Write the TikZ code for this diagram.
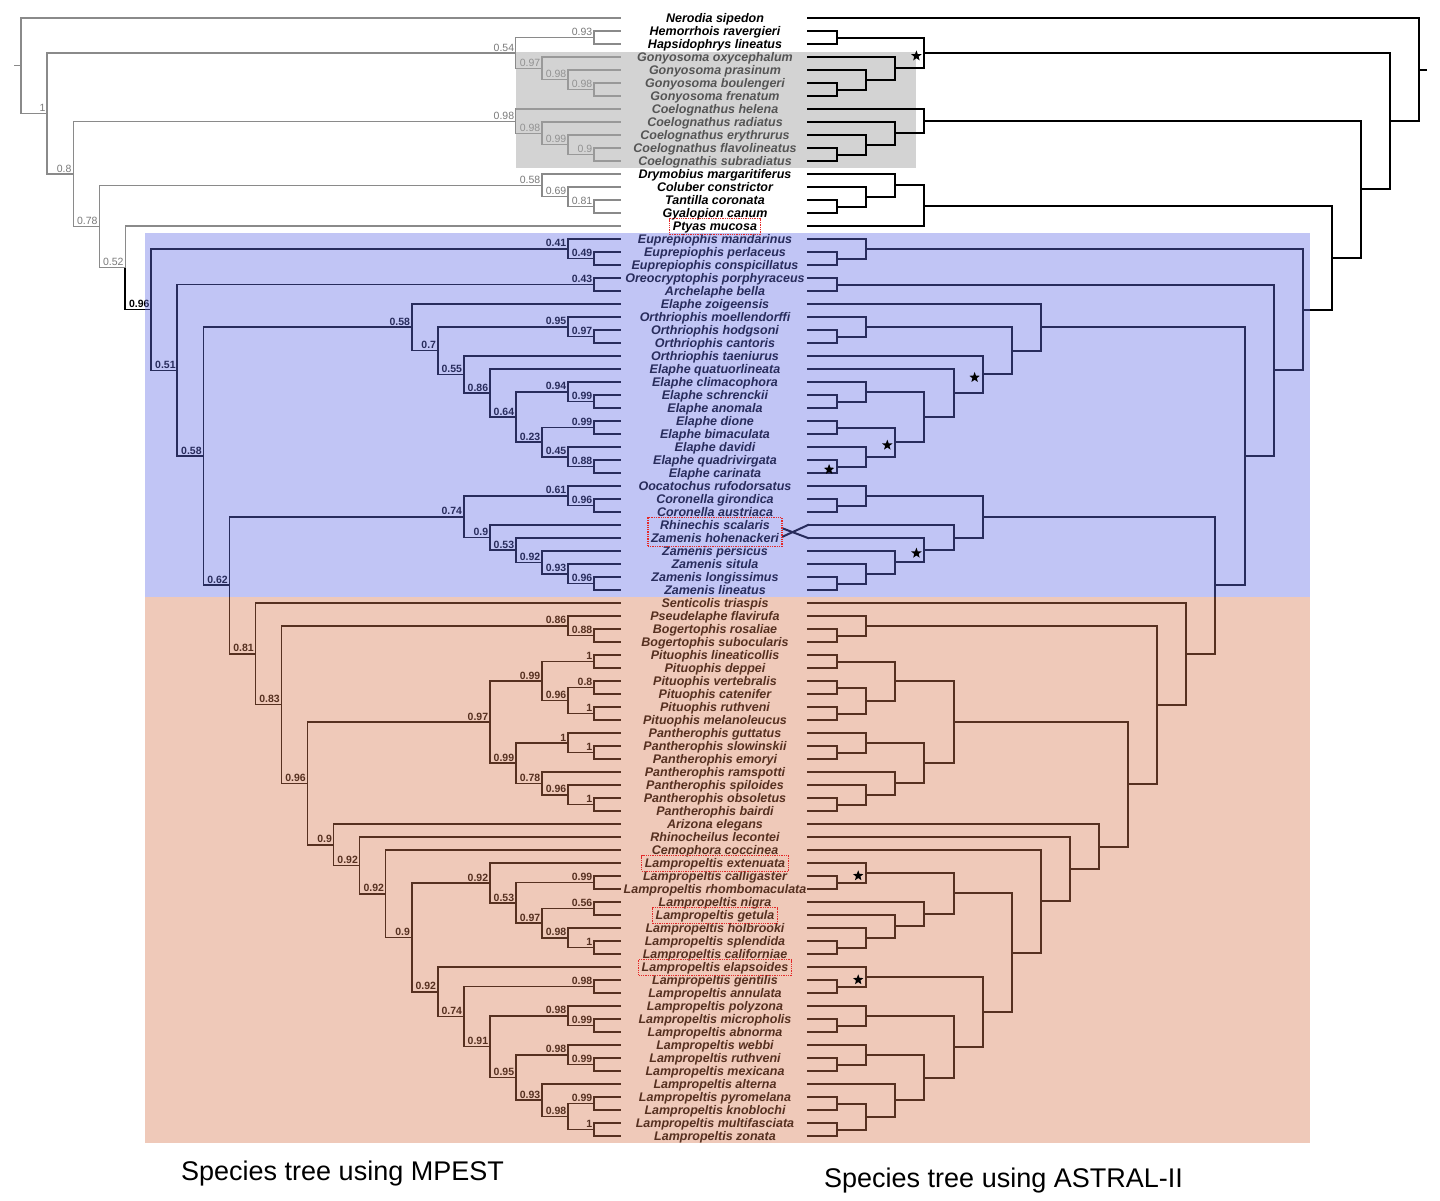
\documentclass[tikz,border=0pt]{standalone}
\usepackage{fontspec}
\setmainfont{Liberation Sans}
\usetikzlibrary{calc,fit,shapes.geometric}
\definecolor{gline}{HTML}{8A8A8A}
\definecolor{gval}{HTML}{7A7A7A}
\definecolor{bluebox}{RGB}{100,110,230}
\definecolor{orangebox}{RGB}{215,120,80}
\definecolor{graybox}{RGB}{169,169,169}
\definecolor{redbox}{RGB}{228,40,40}
\newcommand\T[2]{%
  \coordinate (l#1) at (620,{18+13*(#1-1)});
  \coordinate (r#1) at (808,{18+13*(#1-1)});
  \node[tax] (t#1) at (715,{22.5+13*(#1-1)}) {#2};}
\newcommand\LN[5]{%
  \path let \p1=(#3),\p2=(#4) in ({(620-26.04*#2)*1pt},{0.5*\y1+0.5*\y2}) coordinate (#1);
  \draw[lcur] (#1) |- (#3);
  \draw[lcur] (#1) |- (#4);
  \node[vcur] (v#1) at (#1) {#5};}
\newcommand\RN[4]{%
  \path let \p1=(#3),\p2=(#4) in ({(808+29.1*#2)*1pt},{0.5*\y1+0.5*\y2}) coordinate (#1);
  \draw[rline] (#1) |- (#3);
  \draw[rline] (#1) |- (#4);}
\begin{document}
\begin{tikzpicture}[x=1pt,y=-1pt,
  tax/.style={anchor=base,inner sep=0pt,text height=10.5pt,text depth=2.5pt,font=\fontsize{12.5}{13}\selectfont\bfseries\itshape},
  lgray/.style={draw=gline,line width=1.3pt,line cap=rect},
  lblack/.style={draw=black,line width=1.7pt,line cap=rect},
  rline/.style={draw=black,line width=2pt,line cap=rect},
  vgray/.style={anchor=south east,inner sep=0pt,xshift=-1.5pt,yshift=1.5pt,text=gval,font=\fontsize{10.5}{11}\selectfont},
  vblack/.style={anchor=south east,inner sep=0pt,xshift=-1.5pt,yshift=1.5pt,text=black,font=\fontsize{10.5}{11}\selectfont\bfseries},
  lcur/.style={lgray}, vcur/.style={vgray},
  starmark/.style={star,star points=5,star point ratio=2.4,fill=black,draw=none,minimum size=11pt,inner sep=0pt},
  redbx/.style={draw=redbox,densely dotted,line width=1.3pt,inner xsep=3pt,inner ysep=1pt},
  ttl/.style={anchor=base west,inner sep=0pt,font=\fontsize{27}{30}\selectfont}]
\useasboundingbox (0,0) rectangle (1440,1200);
\fill[white] (0,0) rectangle (1440,1200);
% ---------------- tip labels
\T{1}{Nerodia sipedon}
\T{2}{Hemorrhois ravergieri}
\T{3}{Hapsidophrys lineatus}
\T{4}{Gonyosoma oxycephalum}
\T{5}{Gonyosoma prasinum}
\T{6}{Gonyosoma boulengeri}
\T{7}{Gonyosoma frenatum}
\T{8}{Coelognathus helena}
\T{9}{Coelognathus radiatus}
\T{10}{Coelognathus erythrurus}
\T{11}{Coelognathus flavolineatus}
\T{12}{Coelognathis subradiatus}
\T{13}{Drymobius margaritiferus}
\T{14}{Coluber constrictor}
\T{15}{Tantilla coronata}
\T{16}{Gyalopion canum}
\T{17}{Ptyas mucosa}
\T{18}{Euprepiophis mandarinus}
\T{19}{Euprepiophis perlaceus}
\T{20}{Euprepiophis conspicillatus}
\T{21}{Oreocryptophis porphyraceus}
\T{22}{Archelaphe bella}
\T{23}{Elaphe zoigeensis}
\T{24}{Orthriophis moellendorffi}
\T{25}{Orthriophis hodgsoni}
\T{26}{Orthriophis cantoris}
\T{27}{Orthriophis taeniurus}
\T{28}{Elaphe quatuorlineata}
\T{29}{Elaphe climacophora}
\T{30}{Elaphe schrenckii}
\T{31}{Elaphe anomala}
\T{32}{Elaphe dione}
\T{33}{Elaphe bimaculata}
\T{34}{Elaphe davidi}
\T{35}{Elaphe quadrivirgata}
\T{36}{Elaphe carinata}
\T{37}{Oocatochus rufodorsatus}
\T{38}{Coronella girondica}
\T{39}{Coronella austriaca}
\T{40}{Rhinechis scalaris}
\T{41}{Zamenis hohenackeri}
\T{42}{Zamenis persicus}
\T{43}{Zamenis situla}
\T{44}{Zamenis longissimus}
\T{45}{Zamenis lineatus}
\T{46}{Senticolis triaspis}
\T{47}{Pseudelaphe flavirufa}
\T{48}{Bogertophis rosaliae}
\T{49}{Bogertophis subocularis}
\T{50}{Pituophis lineaticollis}
\T{51}{Pituophis deppei}
\T{52}{Pituophis vertebralis}
\T{53}{Pituophis catenifer}
\T{54}{Pituophis ruthveni}
\T{55}{Pituophis melanoleucus}
\T{56}{Pantherophis guttatus}
\T{57}{Pantherophis slowinskii}
\T{58}{Pantherophis emoryi}
\T{59}{Pantherophis ramspotti}
\T{60}{Pantherophis spiloides}
\T{61}{Pantherophis obsoletus}
\T{62}{Pantherophis bairdi}
\T{63}{Arizona elegans}
\T{64}{Rhinocheilus lecontei}
\T{65}{Cemophora coccinea}
\T{66}{Lampropeltis extenuata}
\T{67}{Lampropeltis calligaster}
\T{68}{Lampropeltis rhombomaculata}
\T{69}{Lampropeltis nigra}
\T{70}{Lampropeltis getula}
\T{71}{Lampropeltis holbrooki}
\T{72}{Lampropeltis splendida}
\T{73}{Lampropeltis californiae}
\T{74}{Lampropeltis elapsoides}
\T{75}{Lampropeltis gentilis}
\T{76}{Lampropeltis annulata}
\T{77}{Lampropeltis polyzona}
\T{78}{Lampropeltis micropholis}
\T{79}{Lampropeltis abnorma}
\T{80}{Lampropeltis webbi}
\T{81}{Lampropeltis ruthveni}
\T{82}{Lampropeltis mexicana}
\T{83}{Lampropeltis alterna}
\T{84}{Lampropeltis pyromelana}
\T{85}{Lampropeltis knoblochi}
\T{86}{Lampropeltis multifasciata}
\T{87}{Lampropeltis zonata}
% ---------------- left tree (MPEST): outgroups
\LN{lA}{1}{l2}{l3}{0.93}
\LN{lB3}{1}{l6}{l7}{0.98}
\LN{lB2}{2}{l5}{lB3}{0.98}
\LN{lB1}{3}{l4}{lB2}{0.97}
\LN{lB}{4}{lA}{lB1}{0.54}
\LN{lC4}{1}{l11}{l12}{0.9}
\LN{lC3}{2}{l10}{lC4}{0.99}
\LN{lC2}{3}{l9}{lC3}{0.98}
\LN{lC1}{4}{l8}{lC2}{0.98}
\LN{lF2}{1}{l15}{l16}{0.81}
\LN{lF1}{2}{l14}{lF2}{0.69}
\LN{lF}{3}{l13}{lF1}{0.58}
% ---------------- left tree: ingroup
\tikzset{lcur/.style={lblack},vcur/.style={vblack}}
\LN{lE1}{1}{l19}{l20}{0.49}
\LN{lE}{2}{l18}{lE1}{0.41}
\LN{lO}{1}{l21}{l22}{0.43}
\LN{lOr1}{1}{l25}{l26}{0.97}
\LN{lOr}{2}{l24}{lOr1}{0.95}
\LN{lEa1}{1}{l30}{l31}{0.99}
\LN{lEa}{2}{l29}{lEa1}{0.94}
\LN{lEd}{1}{l32}{l33}{0.99}
\LN{lEc1}{1}{l35}{l36}{0.88}
\LN{lEc}{2}{l34}{lEc1}{0.45}
\LN{lEb}{3}{lEd}{lEc}{0.23}
\LN{lE4}{4}{lEa}{lEb}{0.64}
\LN{lE5}{5}{l28}{lE4}{0.86}
\LN{lE6}{6}{l27}{lE5}{0.55}
\LN{lE7}{7}{lOr}{lE6}{0.7}
\LN{lK}{8}{l23}{lE7}{0.58}
\LN{lZc1}{1}{l38}{l39}{0.96}
\LN{lZc}{2}{l37}{lZc1}{0.61}
\LN{lZ1}{1}{l44}{l45}{0.96}
\LN{lZ2}{2}{l43}{lZ1}{0.93}
\LN{lZ3}{3}{l42}{lZ2}{0.92}
\LN{lZ4}{4}{l41}{lZ3}{0.53}
\LN{lZ5}{5}{l40}{lZ4}{0.9}
\LN{lZ6}{6}{lZc}{lZ5}{0.74}
\LN{lP1}{1}{l48}{l49}{0.88}
\LN{lP}{2}{l47}{lP1}{0.86}
\LN{lPi1}{1}{l50}{l51}{1}
\LN{lPi2}{1}{l52}{l53}{0.8}
\LN{lPi3}{1}{l54}{l55}{1}
\LN{lPi4}{2}{lPi2}{lPi3}{0.96}
\LN{lPi}{3}{lPi1}{lPi4}{0.99}
\LN{lPa1}{1}{l57}{l58}{1}
\LN{lPa2}{2}{l56}{lPa1}{1}
\LN{lPa3}{1}{l61}{l62}{1}
\LN{lPa4}{2}{l60}{lPa3}{0.96}
\LN{lPa5}{3}{l59}{lPa4}{0.78}
\LN{lPa}{4}{lPa2}{lPa5}{0.99}
\LN{lPP}{5}{lPi}{lPa}{0.97}
\LN{lL1}{1}{l67}{l68}{0.99}
\LN{lL2}{1}{l69}{l70}{0.56}
\LN{lL3}{1}{l72}{l73}{1}
\LN{lL4}{2}{l71}{lL3}{0.98}
\LN{lL5}{3}{lL2}{lL4}{0.97}
\LN{lL6}{4}{lL1}{lL5}{0.53}
\LN{lL7}{5}{l66}{lL6}{0.92}
\LN{lM1}{1}{l75}{l76}{0.98}
\LN{lM2}{1}{l78}{l79}{0.99}
\LN{lM3}{2}{l77}{lM2}{0.98}
\LN{lM4}{1}{l81}{l82}{0.99}
\LN{lM5}{2}{l80}{lM4}{0.98}
\LN{lM6}{1}{l84}{l85}{0.99}
\LN{lM7}{1}{l86}{l87}{1}
\LN{lM8}{2}{lM6}{lM7}{0.98}
\LN{lM9}{3}{l83}{lM8}{0.93}
\LN{lM10}{4}{lM5}{lM9}{0.95}
\LN{lM11}{5}{lM3}{lM10}{0.91}
\LN{lM12}{6}{lM1}{lM11}{0.74}
\LN{lM13}{7}{l74}{lM12}{0.92}
\LN{lS}{8}{lL7}{lM13}{0.9}
\LN{lR}{9}{l65}{lS}{0.92}
\LN{lQ}{10}{l64}{lR}{0.92}
\LN{lPn}{11}{l63}{lQ}{0.9}
\LN{lO12}{12}{lPP}{lPn}{0.96}
\LN{lN}{13}{lP}{lO12}{0.83}
\LN{lM}{14}{l46}{lN}{0.81}
\LN{lL}{15}{lZ6}{lM}{0.62}
\LN{lJ}{16}{lK}{lL}{0.58}
\LN{lI}{17}{lO}{lJ}{0.51}
\LN{lH}{18}{lE}{lI}{0.96}
% ---------------- left tree: deeper outgroup nodes
\tikzset{lcur/.style={lgray},vcur/.style={vgray}}
\LN{lG}{19}{l17}{lH}{0.52}
\draw[lblack] (lG) |- (lH);
\LN{lEE}{20}{lF}{lG}{0.78}
\LN{lCC}{21}{lC1}{lEE}{0.8}
\LN{lAA}{22}{lB}{lCC}{1}
\LN{lroot}{23}{l1}{lAA}{}
\coordinate (lstub) at ($(lroot)+(-6,0)$);
\draw[lgray] (lroot) -- (lstub);
% ---------------- gray overlay
\fill[graybox,fill opacity=0.5] (516,52) rectangle (916,168);
% ---------------- right tree (ASTRAL-II)
\RN{rA}{1}{r2}{r3}
\RN{rG3}{1}{r6}{r7}
\RN{rG2}{2}{r5}{rG3}
\RN{rG1}{3}{r4}{rG2}
\RN{rStar}{4}{rA}{rG1}
\RN{rC4}{1}{r11}{r12}
\RN{rC3}{2}{r10}{rC4}
\RN{rC2}{3}{r9}{rC3}
\RN{rC1}{4}{r8}{rC2}
\RN{rD3}{1}{r15}{r16}
\RN{rD2}{2}{r14}{rD3}
\RN{rD1}{3}{r13}{rD2}
\RN{rD}{4}{rD1}{r17}
\RN{rE1}{1}{r19}{r20}
\RN{rE}{2}{r18}{rE1}
\RN{rO}{1}{r21}{r22}
\RN{rOr1}{1}{r25}{r26}
\RN{rOr}{2}{r24}{rOr1}
\RN{rEa1}{1}{r30}{r31}
\RN{rEa}{2}{r29}{rEa1}
\RN{rEd}{1}{r32}{r33}
\RN{rEc1}{1}{r35}{r36}
\RN{rEc}{2}{r34}{rEc1}
\RN{rEb}{3}{rEd}{rEc}
\RN{rE4}{4}{rEa}{rEb}
\RN{rE5}{5}{r28}{rE4}
\RN{rE6}{6}{r27}{rE5}
\RN{rE7}{7}{rOr}{rE6}
\RN{rK}{8}{r23}{rE7}
\RN{rZc1}{1}{r38}{r39}
\RN{rZc}{2}{r37}{rZc1}
\RN{rZ1}{1}{r44}{r45}
\RN{rZ2}{2}{r43}{rZ1}
\RN{rZ3}{3}{r42}{rZ2}
\RN{rZ4}{4}{r41}{rZ3}
\RN{rZ5}{5}{r40}{rZ4}
\RN{rZ6}{6}{rZc}{rZ5}
\coordinate (x40) at (783,528.5);
\coordinate (x41) at (783,536.5);
\draw[rline] (x40) -- (r41);
\draw[rline] (x41) -- (r40);
\RN{rP1}{1}{r48}{r49}
\RN{rP}{2}{r47}{rP1}
\RN{rPi1}{1}{r50}{r51}
\RN{rPi2}{1}{r52}{r53}
\RN{rPi3}{1}{r54}{r55}
\RN{rPi4}{2}{rPi2}{rPi3}
\RN{rPi}{3}{rPi1}{rPi4}
\RN{rPa1}{1}{r57}{r58}
\RN{rPa2}{2}{r56}{rPa1}
\RN{rPa3}{1}{r61}{r62}
\RN{rPa4}{2}{r60}{rPa3}
\RN{rPa5}{3}{r59}{rPa4}
\RN{rPa}{4}{rPa2}{rPa5}
\RN{rPP}{5}{rPi}{rPa}
\RN{rL1}{1}{r67}{r68}
\RN{rL1b}{2}{r66}{rL1}
\RN{rL3}{1}{r72}{r73}
\RN{rL4}{2}{r71}{rL3}
\RN{rL5}{3}{r70}{rL4}
\RN{rL6}{4}{r69}{rL5}
\RN{rL7}{5}{rL1b}{rL6}
\RN{rM1}{1}{r75}{r76}
\RN{rM1b}{2}{r74}{rM1}
\RN{rM2}{1}{r78}{r79}
\RN{rM3}{2}{r77}{rM2}
\RN{rM4}{1}{r81}{r82}
\RN{rM5}{2}{r80}{rM4}
\RN{rM6}{1}{r84}{r85}
\RN{rM7}{1}{r86}{r87}
\RN{rM8}{2}{rM6}{rM7}
\RN{rM9}{3}{r83}{rM8}
\RN{rM10}{4}{rM5}{rM9}
\RN{rM11}{5}{rM3}{rM10}
\RN{rM12}{6}{rM1b}{rM11}
\RN{rLL}{7}{rL7}{rM12}
\RN{rR13}{8}{r65}{rLL}
\RN{rR12}{9}{r64}{rR13}
\RN{rR11}{10}{r63}{rR12}
\RN{rR10}{11}{rPP}{rR11}
\RN{rR9}{12}{rP}{rR10}
\RN{rR8}{13}{r46}{rR9}
\RN{rR7}{14}{rZ6}{rR8}
\RN{rR6}{15}{rK}{rR7}
\RN{rR5}{16}{rO}{rR6}
\RN{rR4}{17}{rE}{rR5}
\RN{rR3}{18}{rD}{rR4}
\RN{rR2}{19}{rC1}{rR3}
\RN{rR1}{20}{rStar}{rR2}
\RN{rRoot}{21}{r1}{rR1}
\coordinate (rstub) at ($(rRoot)+(7,0)$);
\draw[rline] (rRoot) -- (rstub);
% ---------------- coloured overlays
\fill[bluebox,fill opacity=0.4] (145,233) rectangle (1310,597);
\fill[orangebox,fill opacity=0.4] (145,597) rectangle (1310,1143);
% ---------------- highlights
\node[redbx,fit=(t17)] (b17) {};
\node[redbx,fit=(t40)(t41)] (b40) {};
\node[redbx,fit=(t66)] (b66) {};
\node[redbx,fit=(t70)] (b70) {};
\node[redbx,fit=(t74)] (b74) {};
\node[starmark] (s1) at ($(rStar)+(-8,3)$) {};
\node[starmark] (s2) at ($(rE6)+(-8,3)$) {};
\node[starmark] (s3) at ($(rEb)+(-8,3)$) {};
\node[starmark] (s4) at ($(rEc1)+(-8,3)$) {};
\node[starmark] (s5) at ($(rZ4)+(-8,3)$) {};
\node[starmark] (s6) at ($(rL1b)+(-8,3)$) {};
\node[starmark] (s7) at ($(rM1b)+(-8,3)$) {};
% ---------------- titles
\node[ttl] (title1) at (181,1180) {Species tree using MPEST};
\node[ttl] (title2) at (824,1187) {Species tree using ASTRAL-II};
\end{tikzpicture}
\end{document}
